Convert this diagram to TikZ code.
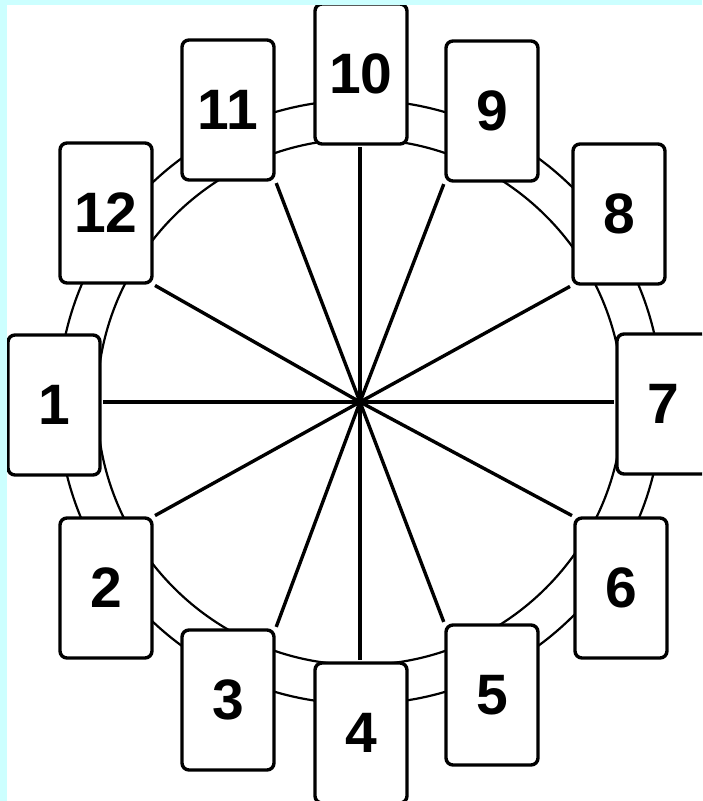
\documentclass[tikz,border=0pt]{standalone}
\usepackage{fontspec}
\setmainfont{Liberation Sans}
\definecolor{bgcyan}{HTML}{CCFFFF}
\tikzset{
  numbox/.style={draw=black, fill=white, line width=3.4pt, rounded corners=7pt,
    minimum width=92pt, minimum height=140pt, inner sep=0pt,
    font=\fontsize{57}{60}\selectfont\bfseries},
  ring/.style={draw=black, line width=2.2pt},
  spoke/.style={draw=black, line width=3.4pt, shorten >=1.5pt}
}
\begin{document}
\begin{tikzpicture}[x=1pt,y=-1pt]
\useasboundingbox (0,0) rectangle (702,801);
\clip (0,0) rectangle (702,801);
\fill[white] (0,0) rectangle (702,801);
\coordinate (c) at (360,402);
\draw[ring] (c) circle[radius=302pt];
\draw[ring] (c) circle[radius=263pt];
\node[numbox] (b1) at (54,405) {1};
\node[numbox] (b2) at (106,588) {2};
\node[numbox] (b3) at (228,700) {3};
\node[numbox] (b4) at (361,733) {4};
\node[numbox] (b5) at (492,695) {5};
\node[numbox] (b6) at (621,588) {6};
\node[numbox] (b7) at (663,404) {7};
\node[numbox] (b8) at (619,214) {8};
\node[numbox] (b9) at (492,111) {9};
\node[numbox] (b10) at (361,74) {10};
\node[numbox] (b11) at (228,110) {11};
\node[numbox] (b12) at (106,213) {12};
\draw[spoke] (c) -- (c -| b1.east);
\draw[spoke] (c) -- (b2.north east);
\draw[spoke] (c) -- (b3.north east);
\draw[spoke] (c) -- (c |- b4.north);
\draw[spoke] (c) -- (b5.north west);
\draw[spoke] (c) -- (b6.north west);
\draw[spoke] (c) -- (c -| b7.west);
\draw[spoke] (c) -- (b8.south west);
\draw[spoke] (c) -- (b9.south west);
\draw[spoke] (c) -- (c |- b10.south);
\draw[spoke] (c) -- (b11.south east);
\draw[spoke] (c) -- (b12.south east);
\fill[bgcyan] (0,0) rectangle (702,5);
\fill[bgcyan] (0,0) rectangle (7,801);
\end{tikzpicture}
\end{document}
